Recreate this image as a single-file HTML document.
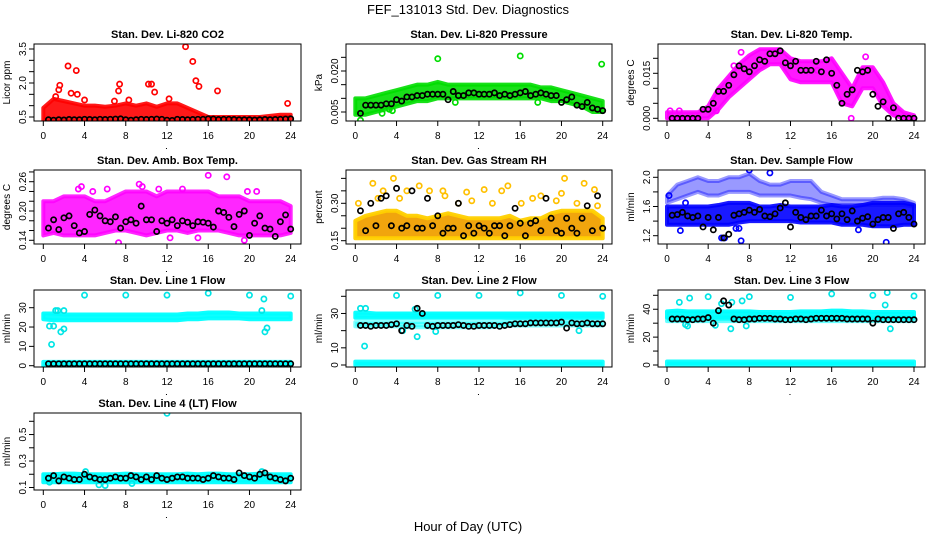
<!DOCTYPE html>
<html><head><meta charset="utf-8"><style>
html,body{margin:0;padding:0;background:#fff;}
svg{display:block;font-family:"Liberation Sans",Arial,sans-serif;}
</style></head><body>
<svg id="chart" width="936" height="540" viewBox="0 0 936 540" xmlns="http://www.w3.org/2000/svg">
<rect width="936" height="540" fill="#fff"/>
<text x="468" y="14" text-anchor="middle" font-size="13">FEF_131013  Std. Dev. Diagnostics</text>
<text x="468" y="531" text-anchor="middle" font-size="13">Hour of Day (UTC)</text>
</svg>
<script>
const hourly=[0,1,2,3,4,5,6,7,8,9,10,11,12,13,14,15,16,17,18,19,20,21,22,23,24];
const halfHours=[0.5,1,1.5,2,2.5,3,3.5,4,4.5,5,5.5,6,6.5,7,7.5,8,8.5,9,9.5,10,10.5,11,11.5,12,12.5,13,13.5,14,14.5,15,15.5,16,16.5,17,17.5,18,18.5,19,19.5,20,20.5,21,21.5,22,22.5,23,23.5,24];
const xTicks=[0,4,8,12,16,20,24];

// CO2
const co2Lo=[0.3,0.3,0.3,0.3,0.3,0.3,0.3,0.3,0.3,0.3,0.3,0.3,0.3,0.3,0.3,0.3,0.3,0.3,0.3,0.3,0.3,0.3,0.3,0.3,0.3];
const co2Hi=[0.9,1.3,1.2,1.1,1.0,1.0,0.95,1.0,1.1,1.0,1.1,0.95,1.1,1.1,0.9,0.7,0.5,0.5,0.5,0.5,0.5,0.5,0.55,0.6,0.6];
const co2OutX=[1.5,2.4,3.2,2.7,3.3,7.3,10.2,10.5,10.8,13.8,14.5,14.8,15.1,16.9,23.7,12.2,8.3,6.9,1.2,4.0,1.6,7.4];
const co2OutY=[1.7,2.75,2.55,1.55,1.5,1.65,1.95,1.95,1.6,3.6,2.95,2.1,1.85,1.65,1.1,1.3,1.25,1.2,1.4,1.25,1.9,1.95];
const co2Black=[0.38,0.36,0.38,0.37,0.39,0.38,0.38,0.4,0.39,0.38,0.4,0.39,0.4,0.41,0.42,0.38,0.36,0.38,0.4,0.39,0.4,0.41,0.4,0.36,0.35,0.4,0.39,0.38,0.39,0.4,0.4,0.42,0.41,0.39,0.4,0.4,0.39,0.38,0.38,0.38,0.37,0.38,0.39,0.38,0.39,0.4,0.41,0.42];
const co2Ticks=[0.5,1,1.5,2,2.5,3,3.5];
const co2Labels=["0.5","","","2.0","","","3.5"];

// Pressure
const prLo=[0.004,0.004,0.005,0.006,0.007,0.008,0.009,0.009,0.010,0.010,0.010,0.010,0.010,0.010,0.010,0.010,0.010,0.010,0.010,0.009,0.009,0.008,0.007,0.005,0.005];
const prHi=[0.010,0.010,0.011,0.012,0.013,0.014,0.015,0.015,0.016,0.015,0.015,0.015,0.015,0.015,0.015,0.015,0.015,0.015,0.014,0.014,0.013,0.012,0.011,0.010,0.009];
const prOutX=[8,16,23.9,0.5,2.6,9.7,17.7,3.3,3.6];
const prOutY=[0.0245,0.0255,0.0225,0.002,0.0045,0.0085,0.0085,0.006,0.0055];
const prBlack=[0.0045,0.0075,0.0075,0.0075,0.0075,0.008,0.008,0.0095,0.009,0.0105,0.0105,0.011,0.011,0.0115,0.0115,0.0115,0.0115,0.0095,0.0125,0.011,0.011,0.012,0.012,0.0115,0.0115,0.0115,0.012,0.011,0.0115,0.011,0.0115,0.012,0.0125,0.011,0.0115,0.012,0.0115,0.011,0.011,0.0085,0.0095,0.0105,0.0075,0.007,0.0085,0.0065,0.006,0.0055];
const prTicks=[0.005,0.010,0.015,0.020,0.025];
const prLabels=["0.005","","","0.020",""];

// Li-820 Temp
const tmLo=[0,0,0,0,0,0.003,0.007,0.010,0.013,0.016,0.018,0.018,0.013,0.012,0.012,0.012,0.012,0.005,0.004,0.010,0.010,0.004,0.001,0,0];
const tmHi=[0.002,0.002,0.002,0.002,0.004,0.010,0.014,0.018,0.021,0.023,0.023,0.023,0.020,0.019,0.019,0.019,0.020,0.015,0.010,0.017,0.017,0.012,0.005,0.002,0.001];
const tmOutX=[0.3,1.2,4.8,7.2,17.9,14.6,6.5,19.3];
const tmOutY=[0.0025,0.0025,0.0025,0.022,0.0,0.016,0.0175,0.0205];
const tmBlack=[0,0,0,0,0,0,0.003,0.003,0.005,0.009,0.009,0.011,0.0145,0.0175,0.0165,0.0155,0.0175,0.0195,0.019,0.0215,0.0215,0.0225,0.0185,0.0175,0.019,0.016,0.016,0.016,0.019,0.0155,0.0195,0.015,0.011,0.005,0.008,0.0095,0.016,0.0155,0.016,0.008,0.004,0.0055,0,0.0035,0,0,0,0];
const tmTicks=[0,0.005,0.010,0.015,0.020];
const tmLabels=["0.000","","","0.015",""];

// Amb box temp
const abLo=[0.15,0.155,0.15,0.15,0.15,0.15,0.155,0.16,0.16,0.155,0.15,0.155,0.16,0.16,0.155,0.16,0.16,0.16,0.155,0.15,0.15,0.15,0.15,0.15,0.155];
const abHi=[0.22,0.22,0.23,0.23,0.23,0.22,0.22,0.23,0.24,0.24,0.24,0.23,0.24,0.24,0.24,0.24,0.24,0.23,0.23,0.23,0.22,0.22,0.22,0.22,0.21];
const abOutX=[3.7,7.3,9.3,9.6,16,17.8,19.5,12.3,19.8,4.8,15,3.4,6.2,11.2,13.5,20.7];
const abOutY=[0.25,0.135,0.255,0.25,0.273,0.27,0.14,0.145,0.24,0.24,0.145,0.245,0.245,0.245,0.245,0.24];
const abBlack=[0.165,0.182,0.162,0.186,0.19,0.17,0.155,0.158,0.193,0.202,0.19,0.18,0.178,0.188,0.165,0.178,0.182,0.175,0.21,0.182,0.182,0.158,0.18,0.175,0.182,0.17,0.18,0.177,0.17,0.178,0.177,0.175,0.167,0.2,0.197,0.187,0.168,0.193,0.2,0.15,0.175,0.19,0.165,0.163,0.148,0.178,0.192,0.163];
const abTicks=[0.14,0.16,0.18,0.20,0.22,0.24,0.26,0.28];
const abLabels=["0.14","","","0.20","","","0.26",""];

// Gas stream RH
const rhLo=[0.16,0.16,0.16,0.16,0.16,0.16,0.16,0.16,0.16,0.16,0.16,0.16,0.16,0.16,0.16,0.16,0.16,0.16,0.16,0.16,0.16,0.16,0.16,0.16,0.16];
const rhHi=[0.23,0.25,0.26,0.27,0.27,0.25,0.25,0.24,0.25,0.26,0.25,0.24,0.24,0.24,0.24,0.25,0.23,0.24,0.24,0.26,0.27,0.27,0.27,0.27,0.24];
const rhOutX=[1.7,2.7,3.7,5,6.2,7.2,8.5,10.8,12.5,14.2,14.8,18,20.3,22.2,23.2,10,4.3,16.1,20,21.5,0.3,2.2,8.7,13.3,19.5,23.5,11.3,17.2];
const rhOutY=[0.38,0.35,0.40,0.35,0.37,0.35,0.35,0.345,0.355,0.35,0.37,0.33,0.40,0.38,0.355,0.3,0.32,0.3,0.34,0.3,0.3,0.32,0.33,0.3,0.31,0.29,0.31,0.32];
const rhBlack=[0.27,0.19,0.30,0.21,0.32,0.33,0.21,0.36,0.20,0.21,0.35,0.20,0.20,0.32,0.21,0.25,0.18,0.20,0.20,0.30,0.17,0.21,0.18,0.21,0.20,0.18,0.21,0.21,0.17,0.21,0.28,0.22,0.17,0.22,0.23,0.19,0.32,0.24,0.19,0.18,0.24,0.2,0.18,0.24,0.29,0.19,0.33,0.2];
const rhTicks=[0.15,0.20,0.25,0.30,0.35,0.40];
const rhLabels=["0.15","","","0.30","",""];

// Sample flow
const sfLo=[1.35,1.35,1.35,1.35,1.35,1.35,1.35,1.38,1.4,1.4,1.4,1.4,1.4,1.38,1.38,1.38,1.38,1.35,1.35,1.35,1.33,1.33,1.33,1.35,1.35];
const sfHi=[1.6,1.6,1.6,1.6,1.6,1.62,1.65,1.65,1.65,1.6,1.6,1.62,1.6,1.6,1.6,1.6,1.62,1.6,1.6,1.62,1.65,1.65,1.65,1.65,1.62];
const sfUpLo=[1.65,1.7,1.75,1.8,1.75,1.75,1.8,1.8,1.8,1.75,1.75,1.75,1.75,1.72,1.7,1.65,1.62,1.62,1.62,1.62,1.62,1.62,1.62,1.62,1.6];
const sfUpHi=[1.75,1.9,1.95,2.0,1.95,1.95,2.0,2.0,2.05,1.95,1.9,1.9,1.95,1.95,1.95,1.8,1.75,1.7,1.7,1.7,1.7,1.72,1.72,1.7,1.65];
const sfOutX=[5.3,5.6,7.2,21.3,1.3,18.6,6.7,7.0,8.0,10.0,1.8,0.2];
const sfOutY=[1.17,1.17,1.13,1.11,1.27,1.28,1.3,1.3,2.1,2.06,1.65,1.75];
const sfBlack=[1.48,1.49,1.52,1.47,1.45,1.47,1.32,1.45,1.28,1.45,1.17,1.22,1.48,1.5,1.52,1.55,1.52,1.56,1.47,1.46,1.5,1.58,1.65,1.32,1.52,1.45,1.42,1.47,1.47,1.55,1.47,1.5,1.43,1.5,1.42,1.54,1.4,1.44,1.46,1.36,1.42,1.45,1.45,1.3,1.5,1.52,1.45,1.36];
const sfTicks=[1.2,1.4,1.6,1.8,2.0];
const sfLabels=["1.2","","1.6","","2.0"];

// Line 1
const l1Lo=[24,23.5,23.5,23.5,23.5,23.5,23.5,23.5,23.5,23.5,23.5,23.5,23.5,23.5,24,24,24.5,24.5,24.5,24.5,24,24,24,24,24];
const l1Hi=[27,27,26.5,26.5,26.5,26.5,26.5,26.5,26.5,26.5,26.5,26.5,26.5,26.5,27,27,27.5,27.5,27.5,27,27,27,27,27,27];
const l1ZLo=[0,0,0,0,0,0,0,0,0,0,0,0,0,0,0,0,0,0,0,0,0,0,0,0,0];
const l1ZHi=[2,2,2,2,2,2,2,2,2,2,2,2,2,2,2,2,2,2,2,2,2,2,2,2,2];
const l1OutX=[0.8,0.6,1.0,1.2,1.4,2,1.7,2.0,4,8,12,16,20,24,21.4,21.2,21.5,21.7];
const l1OutY=[11,20.5,20.5,28.5,28.5,28.5,17.5,19,36.5,36.5,36.5,37.5,36.5,36,34.5,28.5,17.5,19.5];
const l1Black=[1,1,1,1,1,1,1,1,1,1,1,1,1,1,1,1,1,1,1,1,1,1,1,1,1,1,1,1,1,1,1,1,1,1,1,1,1,1,1,1,1,1,1,1,1,1,1,1];
const l1Ticks=[0,10,20,30];
const l1Labels=["0","10","20","30"];

// Line 2
const l2Lo=[27.5,27.5,27.5,27.5,27.5,27.5,27.5,27.5,27.5,27.5,27.5,27.5,27.5,27.5,27.5,27.5,27.5,27.5,27.5,27.5,27.5,27.5,27.5,27.5,27.5];
const l2Hi=[30.5,30.5,30,30,30,30,30,30,30,30,30,30,30,30,30,30,30,30,30,30,30,30,30,30,30];
const l2MidLo=[22.5,22.5,22.5,22.5,22.5,22,22,22,22,22,22,22,22,22,22.5,23,23,23,23,23,23,23,23,23,23];
const l2MidHi=[25,25,25,25,25,25,25,25,25,25,25,25,25,25,25,25.5,25.5,25.5,25.5,25.5,25.5,25.5,25.5,25.5,25.5];
const l2ZLo=[0,0,0,0,0,0,0,0,0,0,0,0,0,0,0,0,0,0,0,0,0,0,0,0,0];
const l2ZHi=[2,2,2,2,2,2,2,2,2,2,2,2,2,2,2,2,2,2,2,2,2,2,2,2,2];
const l2OutX=[0.9,0.5,1,4,8,12,16,20,24,6,7.8,4.6,21.7,5.8];
const l2OutY=[11,33,33,40.5,40.5,40.5,42,40.5,40,16.5,19.5,20,20,32.5];
const l2Black=[23,23,22.5,23,23,23,23.5,24,20,23,22.5,33,30,23,22.5,23,23,23,23,23.5,23,22.5,22.5,23,23,23,23,22.5,23,23.5,24,24,24,24.5,24.5,24.5,24.5,24.5,24.5,25,21.5,24.5,24,24,24.5,24,24,24];
const l2Ticks=[0,10,20,30,40];
const l2Labels=["0","10","","30",""];

// Line 3
const l3Lo=[34,34,34,34,34,34,34,34,34,34,34,34,34,34,34,34,34,34,34,34,34,34,34,34,34];
const l3Hi=[38.5,39,38.5,38.5,38.5,38.5,38.5,38.5,38.5,38,38,38,38,38.5,38.5,38.5,39,39,38.5,38.5,38,38,38,38,38];
const l3MidLo=[31.5,31.5,31.5,31.5,31.5,31.5,31.5,31.5,31.5,31.5,31.5,31.5,31.5,31.5,31.5,31.5,31.5,31.5,31.5,31.5,31.5,31.5,31.5,31.5,31.5];
const l3MidHi=[34,34,34,34,34,34,34,34,34,34,34,34,34,34,34,34,34,34,34,34,34,34,34,34,34];
const l3ZLo=[0,0,0,0,0,0,0,0,0,0,0,0,0,0,0,0,0,0,0,0,0,0,0,0,0];
const l3ZHi=[2.5,2.5,2.5,2.5,2.5,2.5,2.5,2.5,2.5,2.5,2.5,2.5,2.5,2.5,2.5,2.5,2.5,2.5,2.5,2.5,2.5,2.5,2.5,2.5,2.5];
const l3OutX=[1.2,2.2,4,6.3,7.3,8,12,16,20,21.4,24,21.2,21.7,6.2,7.7,2.0,1.8,4.7,5.3];
const l3OutY=[45,48,49,45,46,49,48.5,51,50,52,49.5,43,26,26,28,28,29,28.5,44];
const l3Black=[33,33,33,32.5,32.5,33,33,34,30,39,46,43,33,32.5,32.5,33,33,33.5,33.5,33.5,33,33,32.5,32.5,33,33,32.5,33,33.5,33.5,33.5,33.5,33.5,33.5,33,33,33,33,33,30,33,32.5,32.5,32.5,32.5,32.5,32.5,32.5];
const l3Ticks=[0,10,20,30,40,50];
const l3Labels=["0","","20","","40",""];

// Line 4
const l4Lo=[0.14,0.14,0.14,0.14,0.14,0.14,0.14,0.14,0.14,0.14,0.14,0.14,0.14,0.14,0.14,0.14,0.14,0.14,0.14,0.14,0.14,0.14,0.14,0.14,0.14];
const l4Hi=[0.2,0.2,0.205,0.205,0.2,0.2,0.2,0.2,0.205,0.2,0.2,0.2,0.2,0.2,0.205,0.2,0.205,0.205,0.2,0.2,0.2,0.205,0.2,0.2,0.2];
const l4OutX=[4,12,20,5.4,6,0.6,8.6,4.1,21.2];
const l4OutY=[0.71,0.66,0.71,0.12,0.115,0.14,0.13,0.22,0.22];
const l4Black=[0.17,0.19,0.15,0.18,0.17,0.16,0.16,0.2,0.18,0.17,0.16,0.16,0.17,0.18,0.17,0.17,0.19,0.18,0.16,0.18,0.16,0.19,0.17,0.16,0.17,0.18,0.18,0.17,0.17,0.17,0.16,0.17,0.19,0.18,0.17,0.17,0.16,0.21,0.19,0.18,0.17,0.2,0.21,0.18,0.17,0.16,0.15,0.17];
const l4Ticks=[0.1,0.2,0.3,0.4,0.5,0.6];
const l4Labels=["0.1","","0.3","","0.5",""];

const NS="http://www.w3.org/2000/svg";
const svg=document.getElementById("chart");
function mk(tag,attrs,parent){const e=document.createElementNS(NS,tag);for(const k in attrs)e.setAttribute(k,attrs[k]);(parent||svg).appendChild(e);return e;}
let clipId=0;

function drawPanel(p){
  const g=mk("g",{});
  
  
  const [L,T,R,B]=p.box;
  const xs=h=>p.x0+(h/24)*(p.x24-p.x0);
  const ys=v=>p.yA+(v-p.vA)*(p.yB-p.yA)/(p.vB-p.vA);
  clipId++;
  const cp=mk("clipPath",{id:"c"+clipId},g);
  mk("rect",{x:L,y:T,width:R-L,height:B-T},cp);
  const pg=mk("g",{"clip-path":"url(#c"+clipId+")"},g);
  p.bands.forEach(b=>{
    let pts=[];
    hourly.forEach((h,i)=>pts.push(xs(h)+","+ys(b.hi[i])));
    for(let i=hourly.length-1;i>=0;i--)pts.push(xs(hourly[i])+","+ys(b.lo[i]));
    const poly=mk("polygon",{points:pts.join(" "),fill:b.fill,stroke:b.stroke||b.fill,"stroke-width":4,"stroke-linejoin":"round","fill-opacity":b.op,"stroke-opacity":b.op},pg);
    
    
  });
  p.outX.forEach((h,i)=>{
    const c=mk("circle",{cx:xs(h),cy:ys(p.outY[i]),r:2.6,fill:"none",stroke:p.outColor,"stroke-width":1.7},pg);
    
    
  });
  halfHours.forEach((h,i)=>{
    const c=mk("circle",{cx:xs(h),cy:ys(p.black[i]),r:2.6,fill:"none",stroke:"#000","stroke-width":1.7},pg);
    
    
  });
  const box=mk("rect",{x:L,y:T,width:R-L,height:B-T,fill:"none",stroke:"#000","stroke-width":1},g);
  
  
  const t=mk("text",{x:(L+R)/2,y:T-6,"text-anchor":"middle","font-size":11,"font-weight":"bold"},g);
  t.textContent=p.title;
  
  
  xTicks.forEach(h=>{
    mk("line",{x1:xs(h),x2:xs(h),y1:B,y2:B+5,stroke:"#000"},g);
    const tx=mk("text",{x:xs(h),y:B+18,"text-anchor":"middle","font-size":10},g);
    tx.textContent=String(h);
    
    
  });
  mk("rect",{x:xs(11.9),y:B+27,width:1,height:1,fill:"#000"},g);
  p.ticks.forEach((v,i)=>{
    const y=ys(v);
    if(y<T-1||y>B+1)return;
    mk("line",{x1:L-5,x2:L,y1:y,y2:y,stroke:"#000"},g);
    if(p.labels[i]){
      const ty=mk("text",{x:L-8,y:y,"text-anchor":"middle","font-size":10,transform:`rotate(-90 ${L-8} ${y})`},g);
      ty.textContent=p.labels[i];
      
      
    }
  });
  const yl=mk("text",{x:L-24,y:(T+B)/2,"text-anchor":"middle","font-size":10,transform:`rotate(-90 ${L-24} ${(T+B)/2})`},g);
  yl.textContent=p.ylab;
  
  
}

const C1={x0:43.3,x24:290.7,L:34,R:301};
const C2={x0:355.3,x24:602.7,L:346,R:612};
const C3={x0:667,x24:914,L:658,R:925};
function col(c,T,B){return {x0:c.x0,x24:c.x24,box:[c.L,T,c.R,B]};}

drawPanel(Object.assign(col(C1,44,121),{name:"co2",title:"Stan. Dev. Li-820 CO2",ylab:"Licor ppm",vA:0.5,yA:117,vB:3.5,yB:49,ticks:co2Ticks,labels:co2Labels,
  bands:[{lo:co2Lo,hi:co2Hi,fill:"#ff0000",op:0.9}],outX:co2OutX,outY:co2OutY,outColor:"#ff0000",black:co2Black}));
drawPanel(Object.assign(col(C2,44,121),{name:"pressure",title:"Stan. Dev. Li-820 Pressure",ylab:"kPa",vA:0.005,yA:112,vB:0.020,yB:71,ticks:prTicks,labels:prLabels,
  bands:[{lo:prLo,hi:prHi,fill:"#00dd00",op:0.9}],outX:prOutX,outY:prOutY,outColor:"#00dd00",black:prBlack}));
drawPanel(Object.assign(col(C3,44,121),{name:"temp",title:"Stan. Dev. Li-820 Temp.",ylab:"degrees C",vA:0,yA:118.3,vB:0.015,yB:73.3,ticks:tmTicks,labels:tmLabels,
  bands:[{lo:tmLo,hi:tmHi,fill:"#ff00ff",op:0.9}],outX:tmOutX,outY:tmOutY,outColor:"#ff00ff",black:tmBlack}));
drawPanel(Object.assign(col(C1,170,244),{name:"ambbox",title:"Stan. Dev. Amb. Box Temp.",ylab:"degrees C",vA:0.14,yA:240.3,vB:0.26,yB:181.7,ticks:abTicks,labels:abLabels,
  bands:[{lo:abLo,hi:abHi,fill:"#ff00ff",op:0.85}],outX:abOutX,outY:abOutY,outColor:"#ff00ff",black:abBlack}));
drawPanel(Object.assign(col(C2,170,244),{name:"rh",title:"Stan. Dev. Gas Stream RH",ylab:"percent",vA:0.15,yA:240.7,vB:0.30,yB:203.3,ticks:rhTicks,labels:rhLabels,
  bands:[{lo:rhLo,hi:rhHi,fill:"#f0a000",stroke:"#ffd000",op:0.95}],outX:rhOutX,outY:rhOutY,outColor:"#ffc000",black:rhBlack}));
drawPanel(Object.assign(col(C3,170,244),{name:"sampleflow",title:"Stan. Dev. Sample Flow",ylab:"ml/min",vA:1.2,yA:235.7,vB:2.0,yB:177.3,ticks:sfTicks,labels:sfLabels,
  bands:[{lo:sfLo,hi:sfHi,fill:"#0000ff",op:0.9},{lo:sfUpLo,hi:sfUpHi,fill:"#0000ff",op:0.4}],outX:sfOutX,outY:sfOutY,outColor:"#0000ff",black:sfBlack}));
drawPanel(Object.assign(col(C1,290,367),{name:"line1",title:"Stan. Dev. Line 1 Flow",ylab:"ml/min",vA:0,yA:365.7,vB:30,yB:307.7,ticks:l1Ticks,labels:l1Labels,
  bands:[{lo:l1Lo,hi:l1Hi,fill:"#00ffff",op:0.95},{lo:l1ZLo,hi:l1ZHi,fill:"#00ffff",op:0.9}],outX:l1OutX,outY:l1OutY,outColor:"#00e5e5",black:l1Black}));
drawPanel(Object.assign(col(C2,290,367),{name:"line2",title:"Stan. Dev. Line 2 Flow",ylab:"ml/min",vA:0,yA:365,vB:40,yB:296.3,ticks:l2Ticks,labels:l2Labels,
  bands:[{lo:l2Lo,hi:l2Hi,fill:"#00ffff",op:0.95},{lo:l2MidLo,hi:l2MidHi,fill:"#00ffff",op:0.5},{lo:l2ZLo,hi:l2ZHi,fill:"#00ffff",op:0.9}],outX:l2OutX,outY:l2OutY,outColor:"#00e5e5",black:l2Black}));
drawPanel(Object.assign(col(C3,290,367),{name:"line3",title:"Stan. Dev. Line 3 Flow",ylab:"ml/min",vA:0,yA:365,vB:50,yB:295.3,ticks:l3Ticks,labels:l3Labels,
  bands:[{lo:l3Lo,hi:l3Hi,fill:"#00ffff",op:0.95},{lo:l3MidLo,hi:l3MidHi,fill:"#00ffff",op:0.6},{lo:l3ZLo,hi:l3ZHi,fill:"#00ffff",op:0.9}],outX:l3OutX,outY:l3OutY,outColor:"#00e5e5",black:l3Black}));
drawPanel(Object.assign(col(C1,413,490),{name:"line4",title:"Stan. Dev. Line 4 (LT) Flow",ylab:"ml/min",vA:0.1,yA:487.5,vB:0.6,yB:421.3,ticks:l4Ticks,labels:l4Labels,
  bands:[{lo:l4Lo,hi:l4Hi,fill:"#00ffff",op:0.95}],outX:l4OutX,outY:l4OutY,outColor:"#00e5e5",black:l4Black}));
</script>
</body></html>
